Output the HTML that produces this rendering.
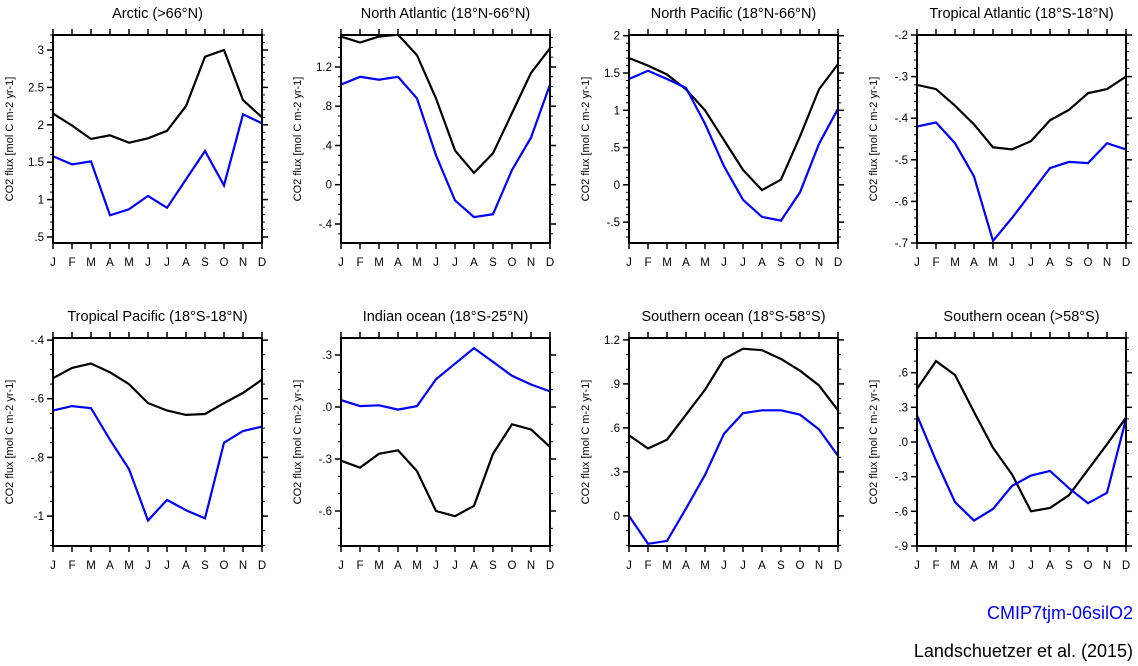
<!DOCTYPE html>
<html><head><meta charset="utf-8"><style>
body{margin:0;background:#fff;width:1138px;height:666px;overflow:hidden}
svg{display:block;font-family:"Liberation Sans",Arial,sans-serif}
</style></head><body>
<svg id="s" width="1138" height="666" xmlns="http://www.w3.org/2000/svg"></svg>
<script>
const P=[
{t:"Arctic (>66°N)",x:53,y:35,min:0.42,max:3.2,ticks:[.5,1,1.5,2,2.5,3],lab:[".5","1","1.5","2","2.5","3"],mn:0.1,
 k:[2.15,1.99,1.81,1.86,1.76,1.82,1.92,2.25,2.91,3.0,2.33,2.1],b:[1.58,1.47,1.51,0.79,0.87,1.05,0.89,1.27,1.65,1.19,2.14,2.02]},
{t:"North Atlantic (18°N-66°N)",x:341,y:35,min:-0.594,max:1.526,ticks:[-.4,0,.4,.8,1.2],lab:["-.4","0",".4",".8","1.2"],mn:0.1,
 k:[1.51,1.45,1.51,1.53,1.32,0.88,0.35,0.12,0.32,0.73,1.14,1.39],b:[1.02,1.10,1.07,1.10,0.88,0.30,-0.16,-0.33,-0.30,0.15,0.48,1.02]},
{t:"North Pacific (18°N-66°N)",x:629,y:35,min:-0.78,max:2.01,ticks:[-.5,0,.5,1,1.5,2],lab:["-.5","0",".5","1","1.5","2"],mn:0.1,
 k:[1.7,1.6,1.48,1.28,1.0,0.6,0.2,-0.07,0.07,0.65,1.28,1.62],b:[1.42,1.53,1.42,1.3,0.82,0.25,-0.2,-0.43,-0.48,-0.1,0.55,1.02]},
{t:"Tropical Atlantic (18°S-18°N)",x:917,y:35,min:-0.7,max:-0.2,ticks:[-.7,-.6,-.5,-.4,-.3,-.2],lab:["-.7","-.6","-.5","-.4","-.3","-.2"],mn:0.02,
 k:[-0.32,-0.33,-0.37,-0.415,-0.47,-0.475,-0.455,-0.405,-0.38,-0.34,-0.33,-0.3],b:[-0.42,-0.41,-0.46,-0.54,-0.695,-0.64,-0.58,-0.52,-0.505,-0.508,-0.46,-0.475]},
{t:"Tropical Pacific (18°S-18°N)",x:53,y:338,min:-1.102,max:-0.393,ticks:[-1,-.8,-.6,-.4],lab:["-1","-.8","-.6","-.4"],mn:0.05,
 k:[-0.53,-0.495,-0.48,-0.51,-0.55,-0.615,-0.64,-0.655,-0.652,-0.615,-0.58,-0.535],b:[-0.64,-0.625,-0.632,-0.74,-0.84,-1.015,-0.945,-0.98,-1.008,-0.75,-0.71,-0.695]},
{t:"Indian ocean (18°S-25°N)",x:341,y:338,min:-0.802,max:0.398,ticks:[-.6,-.3,0,.3],lab:["-.6","-.3",".0",".3"],mn:0.1,
 k:[-0.31,-0.35,-0.27,-0.25,-0.37,-0.6,-0.63,-0.57,-0.27,-0.1,-0.13,-0.23],b:[0.04,0.005,0.01,-0.015,0.005,0.16,0.25,0.34,0.26,0.18,0.13,0.09]},
{t:"Southern ocean (18°S-58°S)",x:629,y:338,min:-0.205,max:1.213,ticks:[0,.3,.6,.9,1.2],lab:["0",".3",".6",".9","1.2"],mn:0.1,
 k:[0.55,0.46,0.52,0.69,0.86,1.07,1.14,1.13,1.07,0.99,0.89,0.72],b:[0.0,-0.19,-0.17,0.05,0.28,0.56,0.7,0.72,0.72,0.69,0.59,0.41]},
{t:"Southern ocean (>58°S)",x:917,y:338,min:-0.9,max:0.9,ticks:[-.9,-.6,-.3,0,.3,.6],lab:["-.9","-.6","-.3",".0",".3",".6"],mn:0.1,
 k:[0.46,0.7,0.58,0.26,-0.05,-0.28,-0.6,-0.57,-0.46,-0.24,-0.02,0.21],b:[0.23,-0.16,-0.52,-0.68,-0.58,-0.38,-0.29,-0.25,-0.4,-0.53,-0.44,0.2]}
];
const W=209,H=208,M="JFMAMJJASOND";
let h="";
for(const p of P){
 const Y=v=>p.y+H-(v-p.min)/(p.max-p.min)*H, X=i=>p.x+i*W/11;
 h+=`<text x="${p.x+W/2}" y="${p.y-17}" font-size="14.5" text-anchor="middle">${p.t}</text>`;
 const s=Math.ceil(p.min/p.mn-1e-6);
 for(let n=s;n*p.mn<=p.max+1e-9;n++){const y=Y(n*p.mn).toFixed(1);
  h+=`<line x1="${p.x-3}" x2="${p.x}" y1="${y}" y2="${y}" stroke="#000" stroke-width="1"/><line x1="${p.x+W}" x2="${p.x+W+3}" y1="${y}" y2="${y}" stroke="#000" stroke-width="1"/>`;}
 p.ticks.forEach((v,i)=>{const y=Y(v).toFixed(1);
  h+=`<line x1="${p.x-6}" x2="${p.x}" y1="${y}" y2="${y}" stroke="#000" stroke-width="1.5"/><line x1="${p.x+W}" x2="${p.x+W+6}" y1="${y}" y2="${y}" stroke="#000" stroke-width="1.5"/>`;
  h+=`<text x="${p.x-9}" y="${+y+4}" font-size="11.5" text-anchor="end">${p.lab[i]}</text>`;});
 for(let i=0;i<12;i++){const x=X(i).toFixed(1);
  h+=`<line x1="${x}" x2="${x}" y1="${p.y-6}" y2="${p.y}" stroke="#000" stroke-width="1.5"/><line x1="${x}" x2="${x}" y1="${p.y+H}" y2="${p.y+H+6}" stroke="#000" stroke-width="1.5"/>`;
  h+=`<text x="${x}" y="${p.y+H+23}" font-size="11.5" text-anchor="middle">${M[i]}</text>`;}
 h+=`<text transform="translate(${p.x-40},${p.y+H/2}) rotate(-90)" font-size="11" text-anchor="middle">CO2 flux [mol C m-2 yr-1]</text>`;
 const pl=a=>a.map((v,i)=>X(i).toFixed(1)+","+Y(v).toFixed(1)).join(" ");
 h+=`<svg x="${p.x}" y="${p.y}" width="${W}" height="${H}" overflow="hidden"><g transform="translate(${-p.x},${-p.y})">`;
 h+=`<polyline points="${pl(p.k)}" fill="none" stroke="#000" stroke-width="2.2"/>`;
 h+=`<polyline points="${pl(p.b)}" fill="none" stroke="#0000ff" stroke-width="2.2"/></g></svg>`;
 h+=`<rect x="${p.x}" y="${p.y}" width="${W}" height="${H}" fill="none" stroke="#000" stroke-width="2"/>`;
}
h+=`<text x="1133" y="619" font-size="18" fill="#0000ff" text-anchor="end">CMIP7tjm-06silO2</text>`;
h+=`<text x="1133" y="657" font-size="18" text-anchor="end">Landschuetzer et al. (2015)</text>`;
document.getElementById("s").innerHTML=h;
</script>
</body></html>
